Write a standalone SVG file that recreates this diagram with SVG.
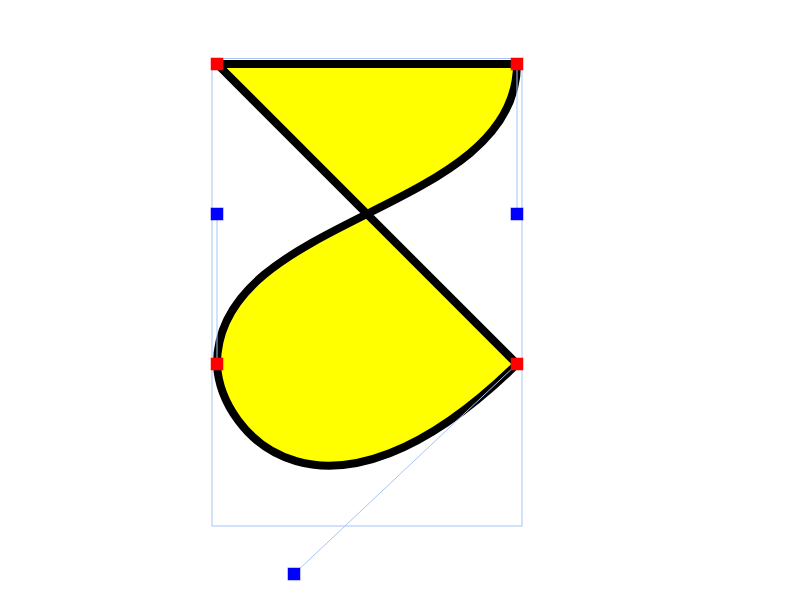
<svg xmlns="http://www.w3.org/2000/svg" width="800" height="600" viewBox="0 0 800 600">
  <style>
    .guide { fill: none; stroke: #a9c3f7; stroke-width: 1; }
    .shape { fill: #ffff00; stroke: #000000; stroke-width: 8; stroke-linejoin: miter; stroke-miterlimit: 2; }
    .pt { fill: #ff0000; stroke: #ff0000; stroke-opacity: 0.5; stroke-width: 1; }
    .cp { fill: #0000ff; stroke: #0000ff; stroke-opacity: 0.5; stroke-width: 1; }
  </style>
  <rect width="800" height="600" fill="#ffffff"/>
  <rect class="guide" x="212" y="58.5" width="310" height="467.5"/>
  <g id="shape">
    <path class="shape" d="M217,64 L517,64 C517,214 217,214 217,364 C220,435 325,552 517,364 Z"/>
  </g>
  <g id="connectors">
    <line class="guide" x1="517" y1="64" x2="517" y2="214"/>
    <line class="guide" x1="217" y1="214" x2="217" y2="364"/>
    <line class="guide" x1="517" y1="364" x2="294" y2="574"/>
  </g>
  <g id="points">
    <rect class="pt" x="211" y="58" width="12" height="12"/>
    <rect class="pt" x="511" y="58" width="12" height="12"/>
    <rect class="pt" x="211" y="358" width="12" height="12"/>
    <rect class="pt" x="511" y="358" width="12" height="12"/>
  </g>
  <g id="controls">
    <rect class="cp" x="211" y="208" width="12" height="12"/>
    <rect class="cp" x="511" y="208" width="12" height="12"/>
    <rect class="cp" x="288" y="568" width="12" height="12"/>
  </g>
</svg>
